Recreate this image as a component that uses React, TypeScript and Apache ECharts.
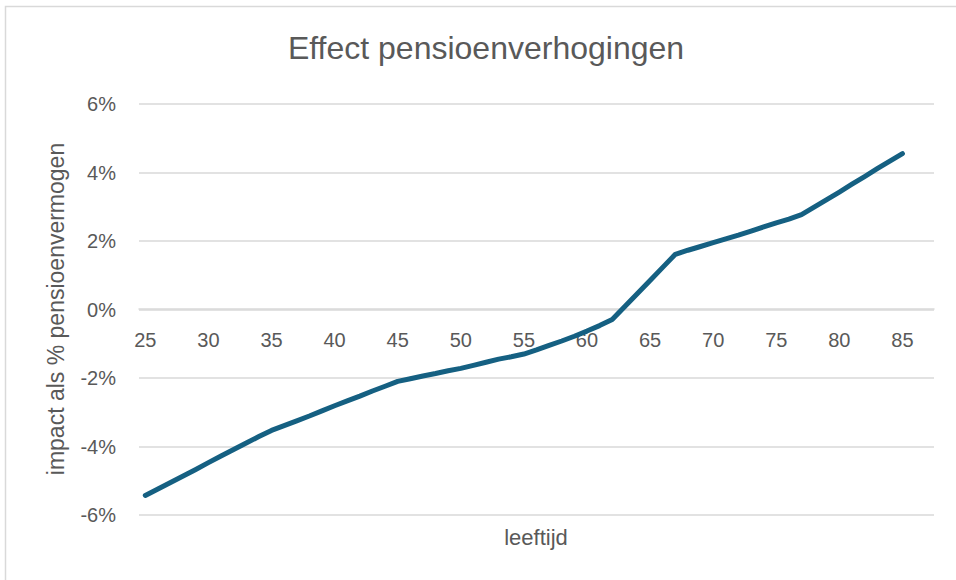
import React, { useEffect, useRef } from "react";
import * as echarts from "echarts";

const TITLE = "Effect pensioenverhogingen";
const Y_NAME = "impact als % pensioenvermogen";
const X_NAME = "leeftijd";

// ages 25..87 (86 and 87 have no data)
const ages: string[] = [
  "25","26","27","28","29","30","31","32","33","34",
  "35","36","37","38","39","40","41","42","43","44",
  "45","46","47","48","49","50","51","52","53","54",
  "55","56","57","58","59","60","61","62","63","64",
  "65","66","67","68","69","70","71","72","73","74",
  "75","76","77","78","79","80","81","82","83","84",
  "85","86","87",
];

// impact in % of pension wealth
const impact: (number | null)[] = [
  -5.43, -5.24, -5.05, -4.86, -4.67, -4.47, -4.28, -4.09, -3.9, -3.71,
  -3.53, -3.39, -3.25, -3.11, -2.96, -2.81, -2.67, -2.53, -2.38, -2.24,
  -2.1, -2.02, -1.94, -1.87, -1.79, -1.72, -1.63, -1.54, -1.45, -1.38,
  -1.3, -1.18, -1.05, -0.92, -0.78, -0.63, -0.47, -0.29, 0.09, 0.47,
  0.85, 1.23, 1.61, 1.73, 1.84, 1.95, 2.06, 2.17, 2.29, 2.41,
  2.53, 2.64, 2.77, 2.99, 3.21, 3.43, 3.66, 3.88, 4.11, 4.33,
  4.55, null, null,
];

const Y_MIN = -6;
const Y_MAX = 6;
const Y_STEP = 2;

const FONT = "'Liberation Sans', Arial, sans-serif";
const TEXT = "#595959";
const GRID = "#d9d9d9";
const LINE = "#156082";

export default function App() {
  const ref = useRef<HTMLDivElement>(null);
  useEffect(() => {
    if (!ref.current) return;
    const chart = echarts.init(ref.current, undefined, { renderer: "svg" });
    chart.setOption({
      animation: false,
      backgroundColor: "#ffffff",
      textStyle: { fontFamily: FONT },
      grid: { left: 139, right: 22, top: 104, bottom: 65 },
      xAxis: {
        type: "category",
        data: ages,
        boundaryGap: true,
        position: "bottom",
        offset: -206,
        axisLine: { show: true, onZero: false, lineStyle: { color: GRID, width: 1.5 } },
        axisTick: { show: false },
        axisLabel: {
          interval: 4,
          margin: 21,
          color: TEXT,
          fontSize: 20,
          fontFamily: FONT,
        },
        splitLine: { show: false },
      },
      yAxis: {
        type: "value",
        min: Y_MIN,
        max: Y_MAX,
        interval: Y_STEP,
        axisLine: { show: false },
        axisTick: { show: false },
        axisLabel: {
          formatter: "{value}%",
          margin: 23,
          color: TEXT,
          fontSize: 20,
          fontFamily: FONT,
        },
        splitLine: { lineStyle: { color: GRID, width: 1.5 } },
      },
      graphic: [
        {
          type: "rect",
          shape: { x: 5.5, y: 6.5, width: 1200, height: 1200 },
          style: { fill: "none", stroke: GRID, lineWidth: 1.5 },
          silent: true,
        },
        {
          type: "text",
          x: 486,
          y: 48,
          style: {
            text: TITLE,
            fill: TEXT,
            fontSize: 32,
            fontFamily: FONT,
            align: "center",
            verticalAlign: "middle",
          },
        },
        {
          type: "text",
          x: 56,
          y: 309,
          rotation: Math.PI / 2,
          style: {
            text: Y_NAME,
            fill: TEXT,
            fontSize: 23,
            fontFamily: FONT,
            align: "center",
            verticalAlign: "middle",
          },
        },
        {
          type: "text",
          x: 536,
          y: 537,
          style: {
            text: X_NAME,
            fill: TEXT,
            fontSize: 22,
            fontFamily: FONT,
            align: "center",
            verticalAlign: "middle",
          },
        },
      ],
      series: [
        {
          type: "line",
          data: impact,
          showSymbol: false,
          symbol: "none",
          connectNulls: false,
          lineStyle: { color: LINE, width: 5, cap: "round", join: "round" },
          itemStyle: { color: LINE },
        },
      ],
    });
    return () => chart.dispose();
  }, []);
  return (
    <div
      ref={ref}
      style={{ position: "fixed", left: 0, top: 0, width: 956, height: 580 }}
    />
  );
}
